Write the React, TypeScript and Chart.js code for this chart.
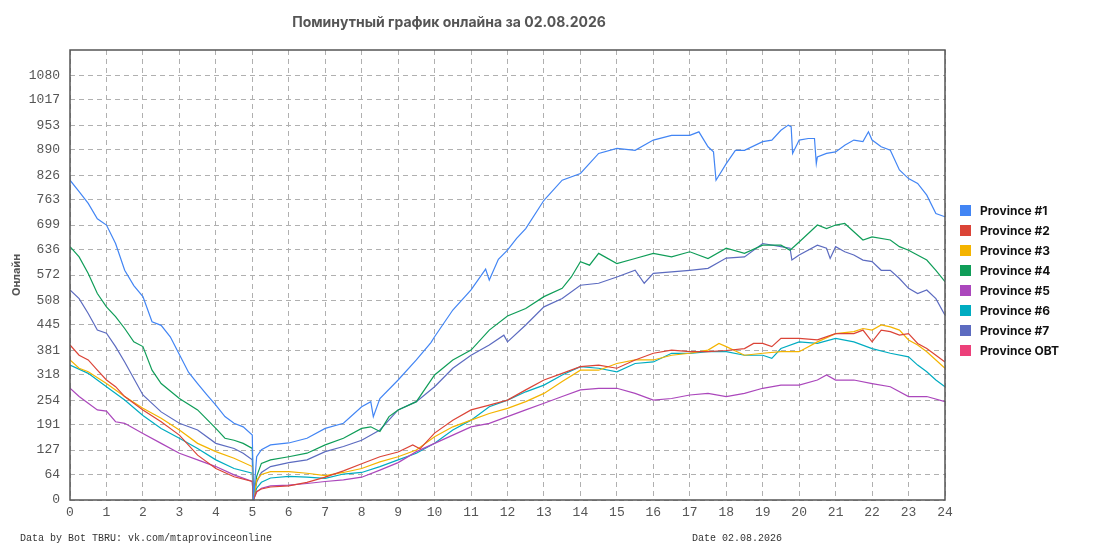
import { useEffect, useRef } from "react"
import { Chart, registerables } from "chart.js"

Chart.register(...registerables)

const TITLE = "Поминутный график онлайна за 02.08.2026"
const FOOTER_LEFT = "Data by Bot TBRU: vk.com/mtaprovinceonline"
const FOOTER_DATE = "Date 02.08.2026"

const Y_MAX = 1144
const Y_TICKS = [0, 64, 127, 191, 254, 318, 381, 445, 508, 572, 636, 699, 763, 826, 890, 953, 1017, 1080]

const LABELS = ["Province #1", "Province #2", "Province #3", "Province #4", "Province #5", "Province #6", "Province #7", "Province OBT"]
const COLORS = ["#4285f4", "#db4437", "#f4b400", "#0f9d58", "#ab47bc", "#00acc1", "#5c6bc0", "#ec407a"]

// [hour, online]
const P1 = [
  [0, 813], [0.25, 784], [0.5, 754], [0.75, 715], [1, 699], [1.25, 652], [1.5, 584], [1.75, 545], [2, 517],
  [2.25, 453], [2.5, 444], [2.75, 415], [3, 370], [3.25, 325], [3.5, 296], [3.75, 268], [4, 241], [4.25, 212],
  [4.5, 195], [4.75, 186], [5, 165], [5.03, 0], [5.12, 110], [5.25, 128], [5.5, 140], [6, 145], [6.5, 157],
  [7, 182], [7.5, 195], [8, 237], [8.25, 250], [8.32, 212], [8.5, 258], [9, 305], [9.5, 356], [9.9, 400],
  [10, 415], [10.5, 483], [11, 534], [11.4, 587], [11.5, 559], [11.75, 612], [12, 635], [12.25, 665],
  [12.5, 690], [13, 762], [13.5, 813], [14, 830], [14.5, 881], [15, 894], [15.5, 889], [16, 915], [16.5, 927],
  [17, 927], [17.25, 936], [17.5, 898], [17.65, 885], [17.72, 813], [18, 855], [18.25, 889], [18.5, 889],
  [19, 911], [19.25, 915], [19.5, 940], [19.7, 953], [19.78, 949], [19.82, 881], [20, 915], [20.25, 919],
  [20.42, 919], [20.47, 855], [20.5, 872], [20.75, 881], [21, 885], [21.25, 902], [21.5, 915], [21.75, 911],
  [21.9, 936], [22, 915], [22.25, 898], [22.5, 889], [22.75, 839], [23, 817], [23.25, 805], [23.5, 775],
  [23.75, 728], [24, 720],
]
const P2 = [
  [0, 394], [0.25, 368], [0.5, 356], [0.75, 330], [1, 305], [1.25, 288], [1.5, 263], [2, 229], [2.5, 199],
  [3, 165], [3.5, 114], [4, 80], [4.5, 59], [5, 47], [5.03, 0], [5.12, 22], [5.25, 28], [5.5, 33], [6, 36],
  [6.5, 45], [7, 58], [7.5, 74], [8, 92], [8.5, 110], [9, 122], [9.4, 140], [9.6, 130], [10, 170], [10.5, 203],
  [11, 229], [11.5, 241], [12, 254], [12.5, 280], [13, 305], [13.5, 322], [14, 339], [14.5, 343], [15, 335],
  [15.5, 356], [16, 373], [16.5, 381], [17, 377], [17.5, 377], [18, 380], [18.5, 385], [18.75, 398], [19, 398],
  [19.25, 390], [19.5, 411], [20, 411], [20.5, 407], [21, 423], [21.5, 423], [21.75, 432], [22, 402],
  [22.25, 432], [22.5, 428], [22.75, 419], [23, 423], [23.25, 398], [23.5, 385], [23.75, 368], [24, 351],
]
const P3 = [
  [0, 356], [0.25, 335], [0.5, 326], [1, 296], [1.5, 263], [2, 233], [2.5, 208], [3, 178], [3.5, 144],
  [4, 123], [4.5, 106], [5, 85], [5.03, 0], [5.12, 50], [5.25, 65], [5.5, 72], [6, 72], [6.5, 68], [7, 62],
  [7.5, 70], [8, 80], [8.5, 97], [9, 110], [9.5, 127], [10, 161], [10.5, 186], [11, 203], [11.5, 220],
  [12, 233], [12.5, 250], [13, 271], [13.5, 301], [14, 330], [14.5, 330], [15, 347], [15.5, 356], [16, 356],
  [16.5, 368], [17, 373], [17.5, 381], [17.8, 398], [18, 390], [18.5, 368], [19, 373], [19.5, 377], [20, 377],
  [20.5, 402], [21, 423], [21.5, 428], [21.75, 436], [22, 432], [22.25, 445], [22.5, 440], [22.75, 432],
  [23, 407], [23.25, 394], [23.5, 377], [23.75, 356], [24, 335],
]
const P4 = [
  [0, 644], [0.25, 618], [0.5, 576], [0.75, 525], [1, 491], [1.25, 466], [1.5, 436], [1.75, 402], [2, 390],
  [2.25, 330], [2.5, 296], [3, 258], [3.5, 229], [4, 182], [4.25, 157], [4.5, 152], [4.75, 144], [5, 131],
  [5.03, 0], [5.12, 60], [5.25, 93], [5.5, 102], [6, 110], [6.5, 119], [7, 140], [7.5, 157], [8, 182],
  [8.25, 186], [8.5, 174], [8.75, 212], [9, 229], [9.5, 250], [10, 318], [10.5, 356], [11, 381], [11.5, 432],
  [12, 468], [12.5, 487], [13, 517], [13.5, 538], [13.75, 567], [14, 606], [14.25, 597], [14.5, 627],
  [15, 601], [15.5, 614], [16, 627], [16.5, 618], [17, 631], [17.5, 614], [18, 640], [18.5, 627], [19, 648],
  [19.5, 648], [19.75, 635], [20, 656], [20.5, 699], [20.75, 690], [21, 699], [21.25, 703], [21.5, 682],
  [21.75, 661], [22, 669], [22.5, 661], [22.75, 644], [23, 635], [23.5, 610], [23.75, 584], [24, 555],
]
const P5 = [
  [0, 284], [0.25, 263], [0.5, 246], [0.75, 229], [1, 226], [1.25, 199], [1.5, 195], [2, 169], [2.5, 144],
  [3, 119], [3.5, 102], [4, 85], [4.5, 64], [5, 47], [5.03, 0], [5.12, 20], [5.25, 30], [5.5, 36], [6, 38],
  [6.5, 42], [7, 47], [7.5, 51], [8, 58], [8.5, 76], [9, 95], [9.5, 123], [10, 144], [10.5, 165], [11, 186],
  [11.5, 195], [12, 212], [12.5, 229], [13, 246], [13.5, 263], [14, 280], [14.5, 284], [15, 284], [15.5, 271],
  [16, 254], [16.5, 258], [17, 267], [17.5, 271], [18, 263], [18.5, 271], [19, 284], [19.5, 292], [20, 292],
  [20.5, 305], [20.75, 318], [21, 305], [21.5, 305], [22, 296], [22.5, 288], [23, 263], [23.5, 263], [24, 250],
]
const P6 = [
  [0, 343], [0.5, 322], [1, 288], [1.5, 254], [2, 215], [2.5, 182], [3, 157], [3.5, 131], [4, 102], [4.5, 80],
  [5, 68], [5.03, 0], [5.12, 30], [5.25, 45], [5.5, 56], [6, 60], [6.5, 58], [7, 55], [7.5, 66], [8, 70],
  [8.5, 85], [9, 102], [9.5, 119], [10, 144], [10.5, 178], [11, 203], [11.5, 237], [12, 254], [12.5, 275],
  [13, 292], [13.5, 318], [14, 339], [14.5, 335], [15, 326], [15.5, 347], [16, 351], [16.5, 373], [17, 373],
  [17.5, 377], [18, 377], [18.5, 368], [19, 368], [19.25, 360], [19.5, 385], [20, 402], [20.5, 398], [21, 411],
  [21.5, 402], [22, 385], [22.5, 373], [23, 364], [23.25, 343], [23.5, 326], [23.75, 305], [24, 288],
]
const P7 = [
  [0, 534], [0.25, 512], [0.5, 474], [0.75, 432], [1, 424], [1.25, 390], [1.5, 351], [2, 267], [2.5, 224],
  [3, 195], [3.5, 178], [4, 144], [4.5, 131], [4.75, 119], [5, 102], [5.03, 0], [5.12, 45], [5.25, 70],
  [5.5, 85], [6, 95], [6.5, 102], [7, 123], [7.5, 136], [8, 152], [8.5, 178], [9, 229], [9.5, 250], [10, 288],
  [10.5, 335], [11, 368], [11.5, 394], [11.9, 419], [12, 402], [12.5, 445], [13, 491], [13.5, 512], [14, 546],
  [14.5, 551], [15, 567], [15.5, 584], [15.75, 551], [16, 576], [16.5, 580], [17, 584], [17.5, 589], [18, 615],
  [18.5, 618], [19, 652], [19.5, 644], [19.75, 640], [19.8, 610], [20, 623], [20.5, 648], [20.75, 640],
  [20.85, 614], [21, 644], [21.25, 631], [21.5, 623], [21.75, 610], [22, 606], [22.25, 584], [22.5, 584],
  [22.75, 563], [23, 538], [23.25, 525], [23.5, 534], [23.75, 512], [24, 470],
]
const POBT: number[][] = []

const SERIES = [P1, P2, P3, P4, P5, P6, P7, POBT]

const MONO = "'Liberation Mono', 'DejaVu Sans Mono', monospace"
const SANS = "Inter, 'Noto Sans', sans-serif"

const decorPlugin = {
  id: "decor",
  afterDraw(chart: Chart) {
    const { ctx, chartArea } = chart
    ctx.save()
    // frame
    ctx.strokeStyle = "#555"
    ctx.lineWidth = 1.5
    ctx.strokeRect(chartArea.left, chartArea.top, chartArea.right - chartArea.left, chartArea.bottom - chartArea.top)

    // title
    ctx.fillStyle = "#555"
    ctx.font = `bold 14px ${SANS}`
    ctx.textAlign = "center"
    ctx.textBaseline = "middle"
    ctx.fillText(TITLE, 449, 23)

    // footer
    ctx.font = `10px ${MONO}`
    ctx.fillStyle = "#333"
    ctx.textAlign = "left"
    ctx.fillText(FOOTER_LEFT, 20, 538)
    ctx.fillText(FOOTER_DATE, 692, 538)

    // legend
    ctx.font = `bold 12px ${SANS}`
    chart.data.datasets.forEach((ds, i) => {
      ctx.fillStyle = ds.borderColor as string
      ctx.fillRect(960, 205 + i * 20, 11, 11)
      ctx.fillStyle = "#111"
      ctx.fillText(ds.label || "", 980, 211 + i * 20)
    })
    ctx.restore()
  },
}

export default function App() {
  const chartRef = useRef<HTMLCanvasElement>(null)
  const chartInstance = useRef<Chart | null>(null)

  useEffect(() => {
    if (!chartRef.current) return
    if (chartInstance.current) chartInstance.current.destroy()
    const ctx = chartRef.current.getContext("2d")
    if (!ctx) return

    chartInstance.current = new Chart(ctx, {
      type: "line",
      data: {
        datasets: SERIES.map((s, i) => ({
          label: LABELS[i],
          data: s.map(([x, y]) => ({ x, y })),
          borderColor: COLORS[i],
          backgroundColor: COLORS[i],
          borderWidth: 1.2,
          pointRadius: 0,
          tension: 0,
          fill: false,
        })),
      },
      options: {
        animation: false,
        responsive: true,
        maintainAspectRatio: false,
        layout: { padding: { top: 50, right: 150, bottom: 0, left: 0 } },
        plugins: {
          legend: { display: false },
          tooltip: { enabled: false },
        },
        scales: {
          x: {
            type: "linear",
            min: 0,
            max: 24,
            ticks: {
              stepSize: 1,
              color: "#555",
              font: { family: MONO, size: 13 },
              padding: 5,
              maxRotation: 0,
              callback: (v: any) => String(v),
            },
            grid: { color: "#b0b0b0", drawTicks: false },
            border: { display: false, dash: [5, 4] },
            afterFit: (scale: any) => {
              scale.height = 50
            },
          },
          y: {
            min: 0,
            max: Y_MAX,
            afterBuildTicks: (scale: any) => {
              scale.ticks = Y_TICKS.map((v) => ({ value: v }))
            },
            ticks: {
              color: "#555",
              font: { family: MONO, size: 13 },
              padding: 10,
              callback: (v: any) => String(v),
            },
            grid: { color: "#b0b0b0", drawTicks: false },
            border: { display: false, dash: [5, 4] },
            title: {
              display: true,
              text: "Онлайн",
              color: "#555",
              font: { family: SANS, size: 11, weight: "bold" },
              padding: { top: 10, bottom: 0 },
            },
            afterFit: (scale: any) => {
              scale.width = 70
            },
          },
        },
      },
      plugins: [decorPlugin],
    })

    return () => {
      if (chartInstance.current) {
        chartInstance.current.destroy()
        chartInstance.current = null
      }
    }
  }, [])

  return (
    <div style={{ position: "fixed", left: 0, top: 0, width: 1095, height: 550, background: "#fff" }}>
      <canvas ref={chartRef} />
    </div>
  )
}
